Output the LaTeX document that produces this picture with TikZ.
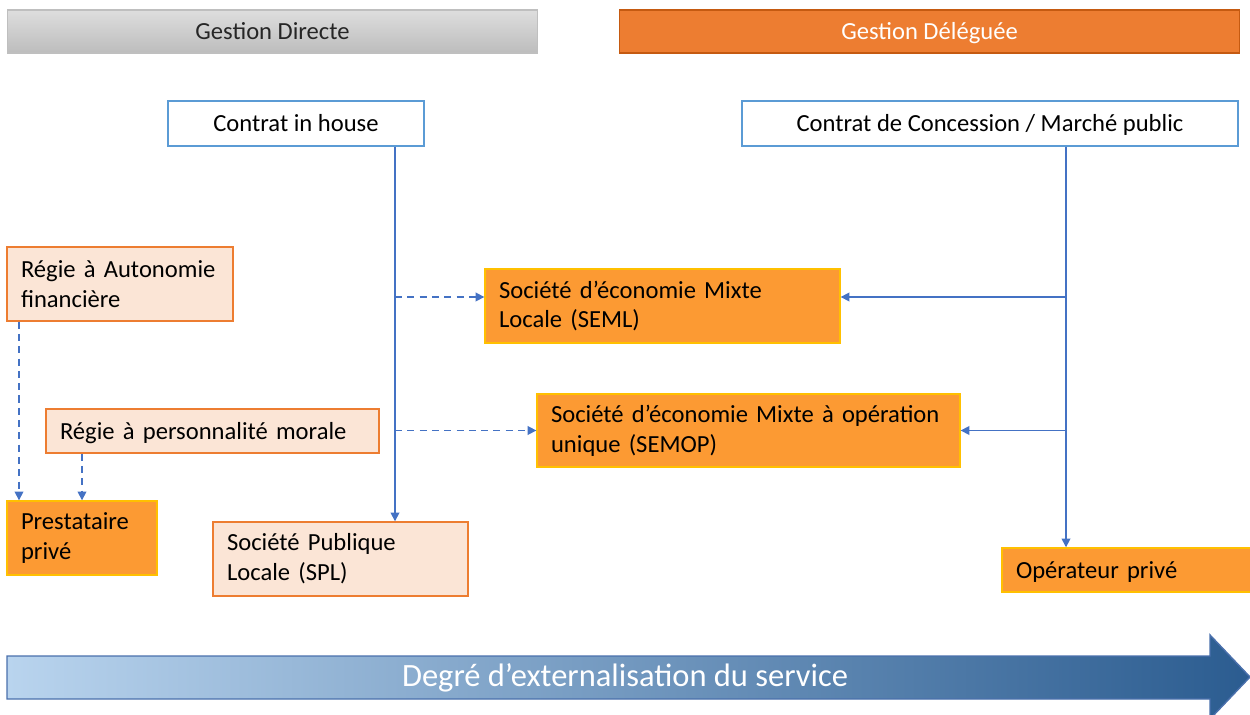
\documentclass[tikz,border=0pt]{standalone}
\usepackage{fontspec}
\setmainfont{Carlito}
\usetikzlibrary{arrows.meta,positioning,calc}

\definecolor{linkblue}{HTML}{4472C4}
\definecolor{frameblue}{HTML}{5B9BD5}
\definecolor{peach}{HTML}{FBE5D6}
\definecolor{peachline}{HTML}{ED7D31}
\definecolor{ripe}{HTML}{FC9A33}
\definecolor{ripeline}{HTML}{FFC000}
\definecolor{headorange}{HTML}{ED7D31}
\definecolor{headorangeline}{HTML}{C55A11}
\definecolor{textdark}{HTML}{262626}
\definecolor{scaleleft}{HTML}{B9D4EE}
\definecolor{scalemid}{HTML}{5E9BD6}
\definecolor{scaleright}{HTML}{2B5C90}
\definecolor{scaleline}{HTML}{4A70AC}

\begin{document}
\begin{tikzpicture}[x=0.02cm,y=-0.02cm]
\tikzset{
  basebox/.style={rectangle,inner sep=0pt,font=\fontsize{14}{17}\selectfont},
  oneline/.style={text height=12pt,text depth=2.4pt},
  headgray/.style={basebox,oneline,top color=black!13,bottom color=black!26,draw=black!25,line width=0.6pt,text=textdark,minimum height=0.86cm},
  headorange/.style={basebox,oneline,fill=headorange,draw=headorangeline,line width=0.6pt,text=white,minimum height=0.86cm},
  contract/.style={basebox,oneline,fill=white,draw=frameblue,line width=0.7pt,minimum height=0.9cm},
  publicbox/.style={basebox,fill=peach,draw=peachline,line width=0.8pt,inner xsep=0.28cm,align=left},
  privatebox/.style={basebox,fill=ripe,draw=ripeline,line width=0.8pt,inner xsep=0.28cm,align=left},
  link/.style={draw=linkblue,line width=0.9pt,-{Triangle[length=5pt,width=5pt]}},
  dlink/.style={link,dash pattern=on 4pt off 3pt}
}
\useasboundingbox (0,0) rectangle (1250,715);

% bandeaux du haut
\node[headgray,minimum width=10.62cm] (n_direct) at (272.5,31.5) {Gestion Directe};
\node[headorange,minimum width=12.42cm] (n_deleg) at (929.5,31.5) {Gestion Déléguée};

% contrats
\node[contract,minimum width=5.12cm] (n_inhouse) at (296,123.5) {Contrat in house};
\node[contract,minimum width=9.92cm] (n_concession) at (990,123.5) {Contrat de Concession / Marché public};

% modes de gestion
\node[publicbox,text width=3.96cm,minimum height=1.48cm] (n_regieAF) at (120,284) {Régie à Autonomie\\financière};
\node[publicbox,oneline,text width=6.10cm,minimum height=0.88cm] (n_regiePM) at (212.5,431) {Régie à personnalité morale};
\node[privatebox,text width=2.44cm,minimum height=1.48cm] (n_prest) at (82,538) {Prestataire\\privé};
\node[publicbox,text width=4.54cm,minimum height=1.48cm] (n_spl) at (340.5,559) {Société Publique\\Locale (SPL)};
\node[privatebox,text width=6.54cm,minimum height=1.48cm] (n_seml) at (662.5,306) {Société d’économie Mixte\\Locale (SEML)};
\node[privatebox,text width=7.90cm,minimum height=1.46cm] (n_semop) at (748.5,430.5) {Société d’économie Mixte à opération\\unique (SEMOP)};
\node[privatebox,oneline,text width=4.44cm,minimum height=0.88cm] (n_oper) at (1127,570) {Opérateur privé};

% traits verticaux et niveau des branches
\coordinate (c_house) at (395,0);
\coordinate (c_conc) at (1066,0);
\coordinate (c_rowA) at (0,297);
\coordinate (c_regA) at (19,0);

\draw[link] (n_inhouse.south -| c_house) -- (n_spl.north -| c_house);
\draw[dlink] (c_house |- c_rowA) -- (n_seml.west |- c_rowA);
\draw[dlink] (c_house |- n_semop.west) -- (n_semop.west);

\draw[link] (n_concession.south -| c_conc) -- (n_oper.north -| c_conc);
\draw[link] (c_conc |- c_rowA) -- (n_seml.east |- c_rowA);
\draw[link] (c_conc |- n_semop.east) -- (n_semop.east);

\draw[dlink] (n_regieAF.south -| c_regA) -- (n_prest.north -| c_regA);
\draw[dlink] (n_regiePM.south -| n_prest.north) -- (n_prest.north);

% fleche du bas
\shade[left color=scaleleft,middle color=scalemid,right color=scaleright,draw=scaleline,line width=0.8pt]
  (7,656) -- (1210,656) -- (1210,635) -- (1250,677) -- (1210,719) -- (1210,699) -- (7,699) -- cycle;
\node[text=white,font=\fontsize{18.5}{22}\selectfont] (n_degree) at (625,677.5) {Degré d’externalisation du service};
\end{tikzpicture}
\end{document}
